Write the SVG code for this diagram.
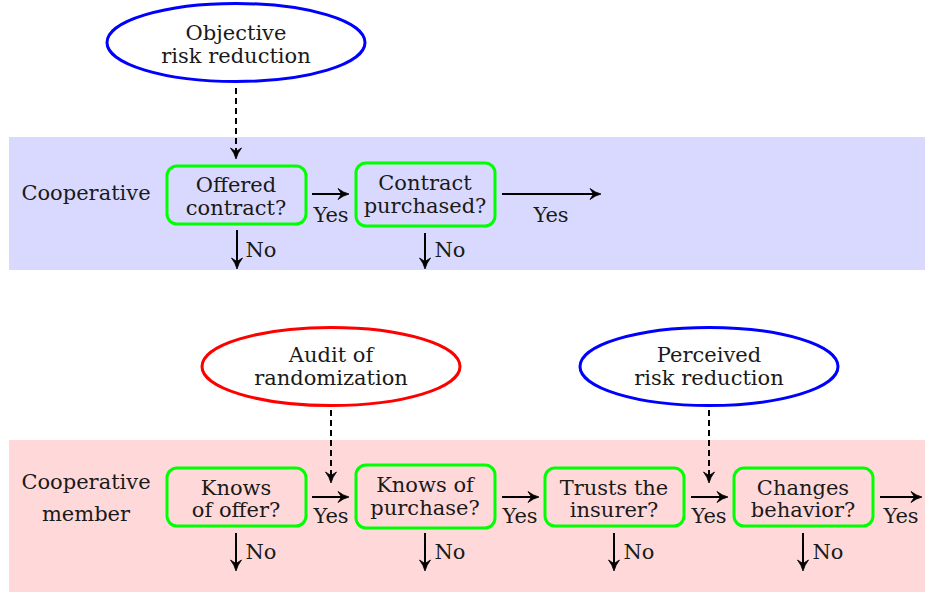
<svg xmlns="http://www.w3.org/2000/svg" width="925" height="592" viewBox="0 0 925 592">
<style>
text{font-family:"DejaVu Serif",serif;font-size:21px;fill:#1a1a1a;text-anchor:middle}
.box{fill:none;stroke:#00ff00;stroke-width:3}
.ell{fill:none;stroke-width:3}
.c{fill:none;stroke:#000;stroke-width:2}
.d{fill:none;stroke:#000;stroke-width:2;stroke-dasharray:6 4}
</style>
<defs>
<path id="ah" d="M-11,-5.5 Q-6,-1.5 0,0 Q-6,1.5 -11,5.5 L-7.5,0Z" fill="#000" stroke="#000" stroke-width="0.8" stroke-linejoin="round"/>
</defs>
<rect x="9" y="137" width="916" height="133" fill="#d9d9ff"/>
<rect x="9" y="440" width="916" height="152" fill="#ffd9d9"/>
<g id="lane1"><text x="86" y="200">Cooperative</text></g>
<g id="lane2"><text x="86" y="489">Cooperative</text><text x="86" y="521">member</text></g>
<g id="objective"><ellipse class="ell" stroke="#0000ff" cx="236" cy="42.5" rx="129" ry="39"/><text x="236" y="40">Objective</text><text x="236" y="63">risk reduction</text></g>
<g id="audit"><ellipse class="ell" stroke="#ff0000" cx="331" cy="366.5" rx="129" ry="39"/><text x="331" y="362">Audit of</text><text x="331" y="385">randomization</text></g>
<g id="perceived"><ellipse class="ell" stroke="#0000ff" cx="709" cy="366.5" rx="129" ry="39"/><text x="709" y="362">Perceived</text><text x="709" y="385">risk reduction</text></g>
<g id="offered"><rect class="box" x="167" y="166" width="139" height="58" rx="10"/><text x="236" y="192">Offered</text><text x="236" y="215">contract?</text></g>
<g id="purchased"><rect class="box" x="356" y="163" width="139" height="63" rx="10"/><text x="425" y="190">Contract</text><text x="425" y="213">purchased?</text></g>
<g id="knowsoffer"><rect class="box" x="167" y="468" width="139" height="58" rx="10"/><text x="236" y="495">Knows</text><text x="236" y="517">of offer?</text></g>
<g id="knowspurchase"><rect class="box" x="356" y="465" width="139" height="63" rx="10"/><text x="425" y="492">Knows of</text><text x="425" y="515">purchase?</text></g>
<g id="trusts"><rect class="box" x="545" y="468" width="139" height="58" rx="10"/><text x="614" y="495">Trusts the</text><text x="614" y="517">insurer?</text></g>
<g id="changes"><rect class="box" x="734" y="468" width="139" height="58" rx="10"/><text x="803" y="495">Changes</text><text x="803" y="517">behavior?</text></g>
<g id="connectors">
<line class="d" x1="236" y1="88" x2="236" y2="152"/><use href="#ah" transform="translate(236,159) rotate(90)"/>
<line class="d" x1="331" y1="410" x2="331" y2="476"/><use href="#ah" transform="translate(331,483) rotate(90)"/>
<line class="d" x1="709" y1="410" x2="709" y2="476"/><use href="#ah" transform="translate(709,483) rotate(90)"/>
<line class="c" x1="312" y1="194" x2="344" y2="194"/><use href="#ah" transform="translate(349,194)"/>
<line class="c" x1="502" y1="194" x2="596" y2="194"/><use href="#ah" transform="translate(601,194)"/>
<line class="c" x1="237" y1="230" x2="237" y2="264"/><use href="#ah" transform="translate(237,269) rotate(90)"/>
<line class="c" x1="425" y1="233" x2="425" y2="264"/><use href="#ah" transform="translate(425,269) rotate(90)"/>
<line class="c" x1="312" y1="497" x2="344" y2="497"/><use href="#ah" transform="translate(349,497)"/>
<line class="c" x1="502" y1="497" x2="534" y2="497"/><use href="#ah" transform="translate(539,497)"/>
<line class="c" x1="691" y1="497" x2="723" y2="497"/><use href="#ah" transform="translate(728,497)"/>
<line class="c" x1="880" y1="497" x2="917" y2="497"/><use href="#ah" transform="translate(922,497)"/>
<line class="c" x1="236" y1="533" x2="236" y2="566"/><use href="#ah" transform="translate(236,571) rotate(90)"/>
<line class="c" x1="425" y1="533" x2="425" y2="566"/><use href="#ah" transform="translate(425,571) rotate(90)"/>
<line class="c" x1="614" y1="533" x2="614" y2="566"/><use href="#ah" transform="translate(614,571) rotate(90)"/>
<line class="c" x1="803" y1="533" x2="803" y2="566"/><use href="#ah" transform="translate(803,571) rotate(90)"/>
<text x="331" y="222">Yes</text>
<text x="551" y="222">Yes</text>
<text x="261" y="257">No</text>
<text x="450" y="257">No</text>
<text x="331" y="523">Yes</text>
<text x="520" y="523">Yes</text>
<text x="709" y="523">Yes</text>
<text x="901" y="523">Yes</text>
<text x="261" y="559">No</text>
<text x="450" y="559">No</text>
<text x="639" y="559">No</text>
<text x="828" y="559">No</text>
</g>
</svg>
